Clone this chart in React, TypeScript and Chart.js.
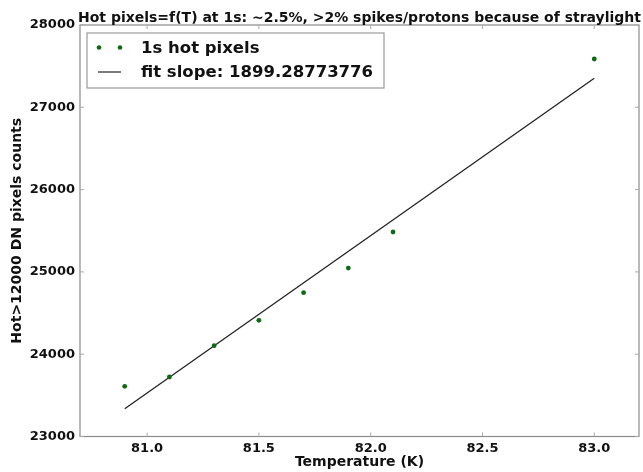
import React, { useEffect, useRef } from "react";
import { Chart, registerables } from "chart.js";

Chart.register(...registerables);

const TITLE = "Hot pixels=f(T) at 1s: ~2.5%, >2% spikes/protons because of straylight";
const X_LABEL = "Temperature (K)";
const Y_LABEL = "Hot>12000 DN pixels counts";
const SCATTER_LABEL = "1s hot pixels";
const FIT_LABEL = "fit slope: 1899.28773776";

const TEMPS = [80.9, 81.1, 81.3, 81.5, 81.7, 81.9, 82.1, 83.0];
const COUNTS = [23610, 23723, 24103, 24412, 24747, 25047, 25485, 27587];

const FIT_TEMPS = [80.9, 83.0];
const FIT_COUNTS = [23338, 27352];

const X_TICKS = [81.0, 81.5, 82.0, 82.5, 83.0];
const Y_TICKS = [23000, 24000, 25000, 26000, 27000, 28000];

const FONT = "'DejaVu Sans', 'Liberation Sans', sans-serif";
const GREEN = "#0b6b12";
const SPINE = "#8a8a8a";

const framePlugin = {
  id: "frame",
  afterDraw(chart: any) {
    const { ctx, chartArea: a, scales } = chart;
    const xs = scales.x;
    const ys = scales.y;
    ctx.save();
    // spines
    ctx.strokeStyle = SPINE;
    ctx.lineWidth = 1.2;
    ctx.strokeRect(a.left, a.top, a.right - a.left, a.bottom - a.top);
    // inward ticks
    ctx.lineWidth = 1;
    ctx.strokeStyle = "#aaaaaa";
    const tl = 4;
    X_TICKS.forEach((v) => {
      const px = xs.getPixelForValue(v);
      ctx.beginPath();
      ctx.moveTo(px, a.bottom);
      ctx.lineTo(px, a.bottom - tl);
      ctx.moveTo(px, a.top);
      ctx.lineTo(px, a.top + tl);
      ctx.stroke();
    });
    Y_TICKS.forEach((v) => {
      const py = ys.getPixelForValue(v);
      ctx.beginPath();
      ctx.moveTo(a.left, py);
      ctx.lineTo(a.left + tl, py);
      ctx.moveTo(a.right, py);
      ctx.lineTo(a.right - tl, py);
      ctx.stroke();
    });
    // title
    ctx.fillStyle = "#111";
    ctx.font = `bold 14px ${FONT}`;
    ctx.textAlign = "center";
    ctx.textBaseline = "alphabetic";
    ctx.fillText(TITLE, (a.left + a.right) / 2, 22);

    // legend box
    const bx = a.left + 7;
    const by = a.top + 8;
    const bw = 297;
    const bh = 55;
    ctx.fillStyle = "#ffffff";
    ctx.fillRect(bx, by, bw, bh);
    ctx.strokeStyle = "#9a9a9a";
    ctx.lineWidth = 1.2;
    ctx.strokeRect(bx, by, bw, bh);

    const r1 = by + 14.5;
    const r2 = by + 39;
    ctx.fillStyle = GREEN;
    [bx + 12, bx + 33].forEach((cx) => {
      ctx.beginPath();
      ctx.arc(cx, r1, 2.3, 0, Math.PI * 2);
      ctx.fill();
    });
    ctx.strokeStyle = "#222";
    ctx.lineWidth = 1.2;
    ctx.beginPath();
    ctx.moveTo(bx + 11, r2);
    ctx.lineTo(bx + 34, r2);
    ctx.stroke();

    ctx.fillStyle = "#111";
    ctx.font = `bold 16.5px ${FONT}`;
    ctx.textAlign = "left";
    ctx.textBaseline = "middle";
    ctx.fillText(SCATTER_LABEL, bx + 54, r1 + 1);
    ctx.fillText(FIT_LABEL, bx + 54, r2 + 1);
    ctx.restore();
  },
};

export default function App() {
  const ref = useRef<HTMLCanvasElement | null>(null);

  useEffect(() => {
    if (!ref.current) return;
    const chart = new Chart(ref.current, {
      type: "scatter",
      data: {
        datasets: [
          {
            label: SCATTER_LABEL,
            data: TEMPS.map((t, i) => ({ x: t, y: COUNTS[i] })),
            backgroundColor: GREEN,
            borderColor: GREEN,
            pointRadius: 2.4,
            borderWidth: 0,
            showLine: false,
          },
          {
            label: FIT_LABEL,
            data: FIT_TEMPS.map((t, i) => ({ x: t, y: FIT_COUNTS[i] })),
            borderColor: "#222222",
            borderWidth: 1.3,
            pointRadius: 0,
            showLine: true,
            fill: false,
          },
        ],
      },
      options: {
        responsive: false,
        animation: false,
        layout: { padding: { top: 25, right: 1, left: 0, bottom: 0 } },
        plugins: {
          legend: { display: false },
          title: { display: false },
          tooltip: { enabled: false },
        },
        scales: {
          x: {
            type: "linear",
            min: 80.7,
            max: 83.2,
            grid: { display: false, drawTicks: false },
            border: { display: false },
            afterBuildTicks: (s: any) => {
              s.ticks = X_TICKS.map((v) => ({ value: v }));
            },
            afterFit: (s: any) => {
              s.height = 35.5;
            },
            ticks: {
              autoSkip: false,
              maxRotation: 0,
              padding: 4,
              color: "#111",
              font: { family: FONT, size: 13, weight: "bold" },
              callback: (v: any) => Number(v).toFixed(1),
            },
            title: {
              display: true,
              text: X_LABEL,
              color: "#111",
              font: { family: FONT, size: 14, weight: "bold" },
              padding: { top: 0, bottom: 1 },
            },
          },
          y: {
            type: "linear",
            min: 23000,
            max: 28000,
            grid: { display: false, drawTicks: false },
            border: { display: false },
            afterBuildTicks: (s: any) => {
              s.ticks = Y_TICKS.map((v) => ({ value: v }));
            },
            afterFit: (s: any) => {
              s.width = 80;
            },
            ticks: {
              autoSkip: false,
              padding: 5,
              color: "#111",
              font: { family: FONT, size: 13, weight: "bold" },
              callback: (v: any) => String(v),
            },
            title: {
              display: true,
              text: Y_LABEL,
              color: "#111",
              font: { family: FONT, size: 14, weight: "bold" },
              padding: { top: 9, bottom: 0 },
            },
          },
        },
      },
      plugins: [framePlugin],
    });
    return () => chart.destroy();
  }, []);

  return (
    <div style={{ position: "fixed", left: 0, top: 0, width: 643, height: 472, background: "#fff" }}>
      <canvas ref={ref} width={643} height={472} style={{ display: "block" }} />
    </div>
  );
}
